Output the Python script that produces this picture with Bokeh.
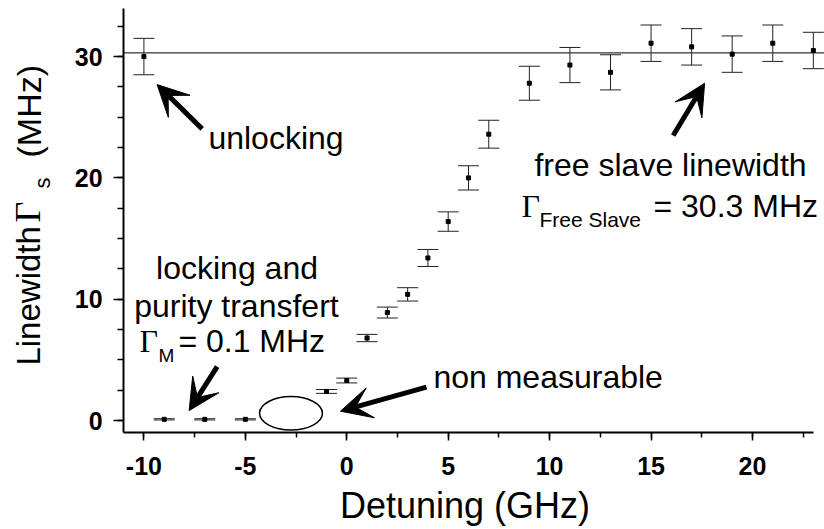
from bokeh.plotting import figure
from bokeh.models import (Range1d, Whisker, TeeHead, ColumnDataSource, Label,
                          Arrow, VeeHead, SingleIntervalTicker, PrintfTickFormatter)
from bokeh.embed import file_html
from bokeh.resources import INLINE

# ---------------- data ----------------
detuning = [-10, -9, -7, -5, -1, 0, 1, 2, 3, 4, 5, 6, 7, 9, 11, 13, 15, 17, 19, 21, 23]
linewidth = [30.0, 0.1, 0.1, 0.1, 2.4, 3.3, 6.8, 8.9, 10.4, 13.4, 16.4, 20.0, 23.6,
             27.8, 29.3, 28.7, 31.1, 30.8, 30.2, 31.1, 30.5]
error = [1.5, 0.05, 0.05, 0.05, 0.16, 0.2, 0.3, 0.45, 0.55, 0.7, 0.8, 1.0, 1.15,
         1.4, 1.45, 1.45, 1.5, 1.5, 1.5, 1.5, 1.5]
free_slave = 30.3

# axis extents
x_lo, x_hi = -11, 23
y_lo, y_hi = -1, 34

# "non measurable" region (ellipse)
ell_x = [-2.75]
ell_y = [0.6]
ell_w = [3.1]
ell_h = [2.75]

# annotation arrows (start -> end in data units)
arrow_x0 = [-7.13, 16.09, -6.39, 3.93]
arrow_y0 = [24.04, 23.49, 4.45, 2.75]
arrow_x1 = [-9.35, 17.64, -7.77, -0.31]
arrow_y1 = [27.69, 27.80, 0.82, 0.77]

FONT = "Liberation Sans"
SERIF = "Liberation Serif"

src = ColumnDataSource(dict(
    x=detuning, y=linewidth,
    upper=[v + e for v, e in zip(linewidth, error)],
    lower=[v - e for v, e in zip(linewidth, error)],
))

W, H = 824, 529
XR = (-17.07, 23.55)
YR = (-8.98, 34.62)
PX_X = W / (XR[1] - XR[0])   # pixels per x unit
PX_Y = H / (YR[1] - YR[0])   # pixels per y unit

p = figure(width=W, height=H, x_range=Range1d(*XR), y_range=Range1d(*YR),
           output_backend="svg", toolbar_location=None,
           min_border_left=0, min_border_right=0, min_border_top=0, min_border_bottom=0)
p.outline_line_color = None
p.xgrid.grid_line_color = None
p.ygrid.grid_line_color = None
p.background_fill_color = "white"
p.border_fill_color = "white"

# axes drawn inside the frame at fixed positions
for ax in (p.xaxis[0], p.yaxis[0]):
    ax.axis_line_width = 2
    ax.axis_line_color = "black"
    ax.major_tick_line_width = 1.5
    ax.minor_tick_line_width = 1.5
    ax.major_tick_line_color = "black"
    ax.minor_tick_line_color = "black"
    ax.major_tick_in = 0
    ax.minor_tick_in = 0
    ax.major_label_text_font = FONT
    ax.major_label_text_font_style = "bold"
    ax.major_label_text_font_size = "25px"
    ax.major_label_text_color = "black"
    ax.formatter = PrintfTickFormatter(format="%d")

p.xaxis.ticker = SingleIntervalTicker(interval=5, num_minor_ticks=2)
p.xaxis.fixed_location = y_lo
p.xaxis.bounds = (x_lo, x_hi)
p.xaxis.major_tick_out = 8
p.xaxis.minor_tick_out = 5
p.xaxis.major_label_standoff = 16

p.yaxis.ticker = SingleIntervalTicker(interval=10, num_minor_ticks=4)
p.yaxis.fixed_location = x_lo
p.yaxis.bounds = (y_lo, y_hi)
p.yaxis.major_tick_out = 10
p.yaxis.minor_tick_out = 6
p.yaxis.major_label_standoff = 11

# reference line (free slave linewidth)
p.ray(x=[x_lo], y=[free_slave], length=0, angle=0, line_color="#333333", line_width=1.2)

# error bars
head_u = TeeHead(size=21, line_color="#222222", line_width=1)
head_l = TeeHead(size=21, line_color="#222222", line_width=1)
p.add_layout(Whisker(base="x", upper="upper", lower="lower", source=src, dimension="height",
                     line_color="#222222", line_width=1, upper_head=head_u, lower_head=head_l))

# points
p.scatter("x", "y", source=src, marker="square", size=4, color="black")

# ellipse
p.ellipse(x=ell_x, y=ell_y, width=ell_w, height=ell_h, fill_color=None,
          line_color="black", line_width=1.5)

# arrows
for x0, y0, x1, y1 in zip(arrow_x0, arrow_y0, arrow_x1, arrow_y1):
    p.add_layout(Arrow(x_start=x0, y_start=y0, x_end=x1, y_end=y1, line_width=5,
                       line_color="black",
                       end=VeeHead(size=31, fill_color="black", line_color="black")))


def lab(text, x, y, size, font=FONT, align="left", angle=0):
    """x, y give the text baseline; size in px."""
    shift = 0.35 * size
    if angle == 0:
        y = y + shift / PX_Y
    else:
        x = x - shift / PX_X
    p.add_layout(Label(x=x, y=y, text=text, text_font=font, text_font_size=f"{size}px",
                       text_align=align, text_baseline="middle", text_color="black",
                       angle=angle, angle_units="deg"))


# annotations
lab("unlocking", -3.49, 22.34, 32, align="center")
lab("free slave linewidth", 15.96, 20.11, 32, align="center")
lab("\u0393", 8.61, 16.73, 32, font=SERIF)
lab("Free Slave", 9.50, 15.99, 21)
lab("= 30.3 MHz", 15.12, 16.73, 32)

lab("locking and", -5.41, 11.62, 32, align="center")
lab("purity transfert", -5.44, 8.49, 32, align="center")
lab("\u0393", -10.22, 5.60, 32, font=SERIF)
lab("M", -9.28, 4.78, 19)
lab("= 0.1 MHz", -8.30, 5.60, 32)

lab("non measurable", 4.27, 2.64, 32)

# axis titles
lab("Detuning (GHz)", 5.83, -8.08, 36, align="center")
lab("Linewidth", -15.10, 4.53, 33, angle=90)
lab("\u0393", -15.10, 16.32, 36, font=SERIF, angle=90)
lab("s", -14.61, 19.12, 22, angle=90)
lab("(MHz)", -15.10, 21.68, 34, angle=90)

open("out.html", "w").write(file_html(p, INLINE))
